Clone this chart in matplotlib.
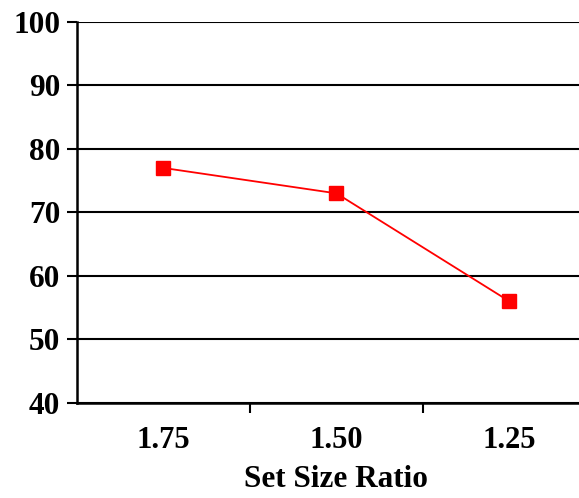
import matplotlib
matplotlib.use("Agg")
import matplotlib.pyplot as plt
from matplotlib.ticker import FixedLocator, NullFormatter

categories = ["1.75", "1.50", "1.25"]
values = [77, 73, 56]
y_ticks = [40, 50, 60, 70, 80, 90, 100]

plt.rcParams["font.family"] = ["Liberation Serif", "DejaVu Serif"]
plt.rcParams["font.weight"] = "bold"

fig = plt.figure(figsize=(5.79, 4.98), dpi=100)
ax = fig.add_axes([0.133, 0.191, 0.896, 0.765])

x = list(range(len(categories)))
ax.plot(x, values, color="#ff0000", linewidth=1.3, marker="s",
        markersize=9.5, markerfacecolor="#ff0000", markeredgecolor="#ff0000", zorder=3)

ax.set_xlim(-0.5, len(categories) - 0.5)
ax.set_ylim(40, 100)
ax.set_yticks(y_ticks)
ax.yaxis.grid(True, color="black", linewidth=1.5)
ax.set_axisbelow(True)

ax.set_xticks(x)
ax.set_xticklabels(categories, fontsize=22, fontweight="bold")
ax.tick_params(axis="x", which="major", length=0, pad=17)
ax.xaxis.set_minor_locator(FixedLocator([i + 0.5 for i in range(len(categories))]))
ax.xaxis.set_minor_formatter(NullFormatter())
ax.tick_params(axis="x", which="minor", length=7, width=1.5, direction="out")
ax.tick_params(axis="y", length=7, width=1.5, direction="out", labelsize=22.5, pad=5)
for lbl in ax.get_yticklabels():
    lbl.set_fontweight("bold")

for side in ["top", "right"]:
    ax.spines[side].set_visible(False)
ax.spines["left"].set_linewidth(1.8)
ax.spines["bottom"].set_linewidth(1.8)

ax.set_xlabel("Set Size Ratio", fontsize=22.5, fontweight="bold", labelpad=7)

fig.savefig("out.png", dpi=100)
